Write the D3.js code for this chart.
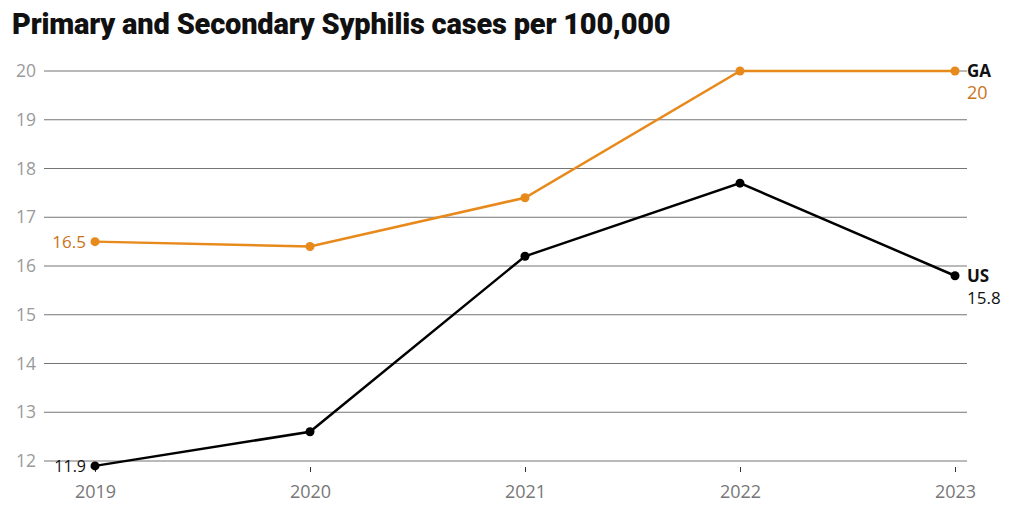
<!DOCTYPE html>
<html><head><meta charset="utf-8">
<script src="https://cdn.jsdelivr.net/npm/d3@7"></script>
<style>body{margin:0;background:#fff;} svg{display:block;}</style>
</head><body>
<svg id="c" width="1024" height="523"></svg>
<script>
const years = [2019, 2020, 2021, 2022, 2023];
const gaValues = [16.5, 16.4, 17.4, 20, 20];
const usValues = [11.9, 12.6, 16.2, 17.7, 15.8];
const yTicks = [12, 13, 14, 15, 16, 17, 18, 19, 20];
const titleText = "Primary and Secondary Syphilis cases per 100,000";

const svg = d3.select("#c");
const x = d3.scalePoint().domain(years).range([95, 955]);
const y = d3.scaleLinear().domain([12, 20]).range([461, 71]);
const gridLeft = 44, gridRight = 967;
const orange = "#e8891c", orangeText = "#c8751a";
const font = "'Open Sans', sans-serif";

svg.append("text").attr("x", 12).attr("y", 34)
  .attr("font-family", "'Roboto', sans-serif")
  .attr("font-weight", 900).attr("font-size", 29).attr("fill", "#111")
  .attr("letter-spacing", -0.2)
  .text(titleText);

// y grid + labels
const yg = svg.append("g");
yg.selectAll("line").data(yTicks).join("line")
  .attr("x1", gridLeft).attr("x2", gridRight)
  .attr("y1", d => y(d)).attr("y2", d => y(d))
  .attr("stroke", "#757575").attr("stroke-width", 1);
yg.selectAll("text").data(yTicks).join("text")
  .attr("x", 36).attr("y", d => y(d) + 6)
  .attr("text-anchor", "end").attr("font-family", font)
  .attr("font-size", 17.5).attr("fill", "#9a9a9a").text(d => d);

// x axis ticks + labels
const xAxis = d3.axisBottom(x).tickSize(5).tickPadding(13).tickFormat(d3.format("d"));
const xg = svg.append("g").attr("transform", "translate(0,467)").call(xAxis);
xg.select(".domain").remove();
xg.selectAll(".tick line").attr("stroke", "#333");
xg.selectAll(".tick text").attr("font-family", font).attr("font-size", 18).attr("fill", "#777");

const line = d3.line().x((d, i) => x(years[i])).y(d => y(d));

function series(vals, color) {
  svg.append("path").datum(vals).attr("d", line)
    .attr("fill", "none").attr("stroke", color).attr("stroke-width", 2.5);
  svg.append("g").selectAll("circle").data(vals).join("circle")
    .attr("cx", (d, i) => x(years[i])).attr("cy", d => y(d)).attr("r", 4.5).attr("fill", color);
}
series(gaValues, orange);
series(usValues, "#000");

// start labels
svg.append("text").attr("x", 86).attr("y", y(gaValues[0]) + 6).attr("text-anchor", "end")
  .attr("font-family", font).attr("font-size", 17).attr("fill", orangeText).text(gaValues[0]);
svg.append("text").attr("x", 86).attr("y", y(usValues[0]) + 6).attr("text-anchor", "end")
  .attr("font-family", font).attr("font-size", 16).attr("fill", "#111")
  .text(usValues[0]);

// end labels
const ex = 967;
svg.append("text").attr("x", ex).attr("y", y(gaValues[4]) + 6).attr("font-family", font)
  .attr("font-weight", 700).attr("font-size", 17).attr("fill", "#111").text("GA");
svg.append("text").attr("x", ex).attr("y", y(gaValues[4]) + 28).attr("font-family", font)
  .attr("font-size", 18).attr("fill", orangeText).text(gaValues[4]);
svg.append("text").attr("x", ex).attr("y", y(usValues[4]) + 6).attr("font-family", font)
  .attr("font-weight", 700).attr("font-size", 17).attr("fill", "#111").text("US");
svg.append("text").attr("x", ex).attr("y", y(usValues[4]) + 28).attr("font-family", font)
  .attr("font-size", 17).attr("fill", "#111").text(usValues[4]);
</script>
</body></html>
